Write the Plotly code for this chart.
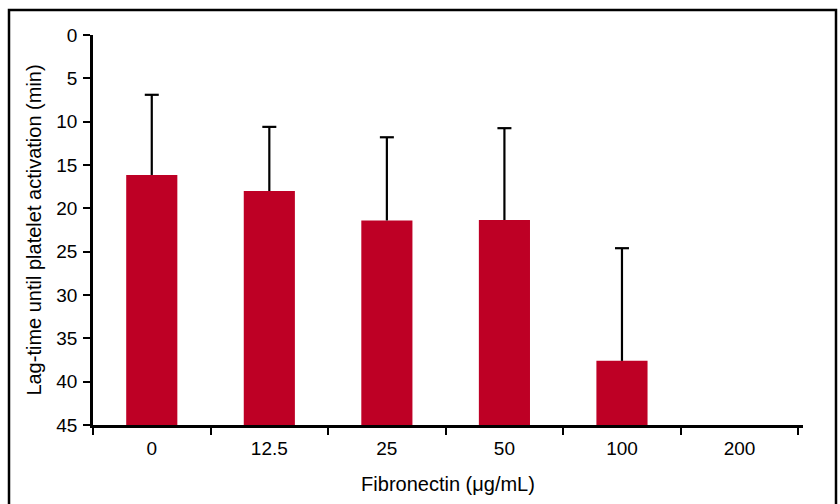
import plotly.graph_objects as go

categories = ["0", "12.5", "25", "50", "100", "200"]
lag_time = [16.15, 18.0, 21.4, 21.35, 37.6, None]
error_up = [9.25, 7.4, 9.6, 10.6, 13.0, None]
y_ticks = [0, 5, 10, 15, 20, 25, 30, 35, 40, 45]
y_max = 45

bar_heights = [None if v is None else v - y_max for v in lag_time]

# error whiskers built from the data (go upward on the reversed axis, cap only at the top)
wx, wy, cap_x, cap_y = [], [], [], []
for c, v, e in zip(categories, lag_time, error_up):
    if v is None or e is None:
        continue
    wx += [c, c, None]
    wy += [v, v - e, None]
    cap_x.append(c)
    cap_y.append(v - e)

FONT = "Liberation Sans, Arial, sans-serif"

fig = go.Figure()
fig.add_trace(go.Bar(
    x=categories,
    y=bar_heights,
    base=y_max,
    width=0.435,
    marker=dict(color="#BE0025", line=dict(width=0)),
    showlegend=False,
    hoverinfo="skip",
))
fig.add_trace(go.Scatter(
    x=wx, y=wy, mode="lines",
    line=dict(color="black", width=2.2),
    showlegend=False, hoverinfo="skip",
))
fig.add_trace(go.Scatter(
    x=cap_x, y=cap_y, mode="markers",
    marker=dict(symbol="line-ew", size=10, line=dict(color="black", width=2.2)),
    showlegend=False, hoverinfo="skip",
))

fig.update_layout(
    width=840, height=504,
    margin=dict(l=93, r=37, t=35, b=79),
    paper_bgcolor="white",
    plot_bgcolor="white",
    font=dict(family=FONT, size=19, color="black"),
    xaxis=dict(
        type="category",
        range=[-0.5, 5.54],
        automargin=False,
        showline=True, linecolor="black", linewidth=2.5,
        ticks="outside", tickson="boundaries", ticklen=7, tickwidth=2, tickcolor="black",
        ticklabelstandoff=4,
        showgrid=False, zeroline=False,
        tickfont=dict(family=FONT, size=19),
        title=dict(text="Fibronectin (\u03bcg/mL)", font=dict(family=FONT, size=20), standoff=20),
    ),
    yaxis=dict(
        range=[y_max, 0],
        tickvals=y_ticks,
        automargin=False,
        showline=True, linecolor="black", linewidth=2.5,
        ticks="outside", ticklen=7, tickwidth=2, tickcolor="black",
        ticklabelstandoff=2,
        showgrid=False, zeroline=False,
        tickfont=dict(family=FONT, size=19),
        title=dict(text="Lag-time until platelet activation (min)", font=dict(family=FONT, size=20), standoff=10),
    ),
    shapes=[dict(
        type="rect", xref="paper", yref="paper",
        x0=(9 - 93) / 710, x1=(836 - 93) / 710,
        y0=-0.3, y1=1 + (35 - 10) / 390,
        line=dict(color="black", width=2.5),
        fillcolor="rgba(0,0,0,0)",
        layer="below",
    )],
)

fig.write_html(
    "out.html",
    config={"displayModeBar": False},
    post_script="document.body.style.margin='0';document.body.style.overflow='hidden';",
)
